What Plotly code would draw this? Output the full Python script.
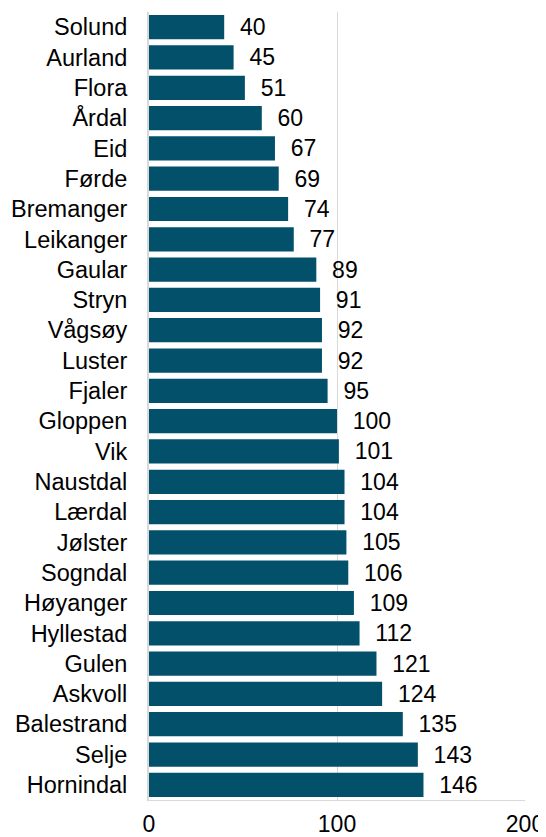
import plotly.graph_objects as go

categories = ["Solund", "Aurland", "Flora", "Årdal", "Eid", "Førde", "Bremanger", "Leikanger",
              "Gaular", "Stryn", "Vågsøy", "Luster", "Fjaler", "Gloppen", "Vik", "Naustdal",
              "Lærdal", "Jølster", "Sogndal", "Høyanger", "Hyllestad", "Gulen", "Askvoll",
              "Balestrand", "Selje", "Hornindal"]
values = [40, 45, 51, 60, 67, 69, 74, 77, 89, 91, 92, 92, 95, 100, 101, 104, 104, 105, 106,
          109, 112, 121, 124, 135, 143, 146]
x_ticks = [0, 100, 200]

FONT = "Liberation Sans, Arial, sans-serif"

fig = go.Figure(go.Bar(
    x=values, y=categories, orientation="h",
    marker=dict(color="#03506B", line=dict(width=0)),
    text=values,
    texttemplate="\u00a0\u00a0%{x}",
    textposition="outside",
    constraintext="none",
    textfont=dict(family=FONT, size=23, color="#000000"),
    cliponaxis=False,
    width=0.8,
))

# page body has an 8px default margin, so the figure is 8px smaller than the window
fig.update_layout(
    width=538, height=829,
    margin=dict(l=141, r=21, t=4, b=37),
    plot_bgcolor="white", paper_bgcolor="white",
    font=dict(family=FONT, size=23, color="#000000"),
    showlegend=False,
    bargap=0.2,
)
fig.update_xaxes(
    range=[0, 200], tickvals=x_ticks, ticktext=[str(t) for t in x_ticks],
    showgrid=True, gridcolor="#D9D9D9", gridwidth=1,
    zeroline=False, showline=True, linecolor="#D9D9D9", linewidth=1,
    ticks="", ticklabelstandoff=3, automargin=False,
    tickfont=dict(family=FONT, size=23, color="#000000"),
)
fig.update_yaxes(
    categoryorder="array", categoryarray=categories, autorange="reversed",
    showgrid=False, zeroline=False, showline=True, linecolor="#D9D9D9", linewidth=2,
    ticks="", ticklabelstandoff=15, automargin=False,
    tickfont=dict(family=FONT, size=23.5, color="#000000"),
)

fig.write_html("out.html")
